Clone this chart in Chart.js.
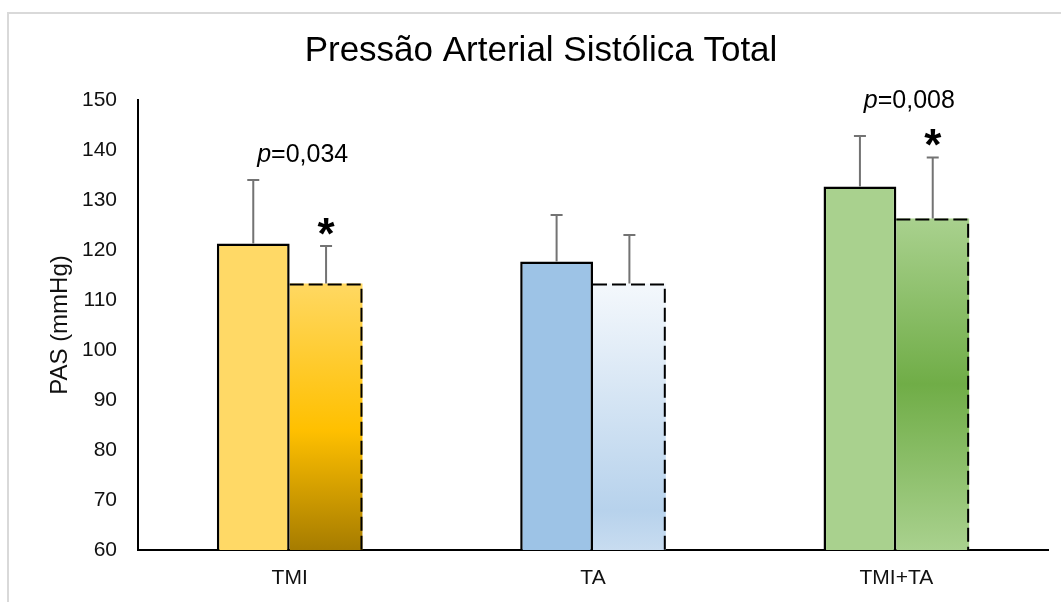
<!DOCTYPE html>
<html lang="pt">
<head>
    <meta charset="UTF-8">
    <title>Pressão Arterial Sistólica Total</title>
    <script src="https://cdn.jsdelivr.net/npm/chart.js"></script>
    <style>
        body { margin: 0; background: #fff; }
        #wrap { width: 1061px; height: 602px; }
    </style>
</head>
<body>
    <div id="wrap"><canvas id="pasChart"></canvas></div>

    <script>
        // dados
        const grupos = ["TMI", "TA", "TMI+TA"];
        const pasPre = [121.3, 117.7, 132.7];
        const dpPre = [12.7, 9.3, 10.1];
        const pasPos = [113.3, 113.3, 126.3];
        const dpPos = [7.5, 9.7, 12.2];
        const valoresP = ["0,034", "", "0,008"];
        const nivelP = [139, null, 149.7];
        const marcaSignif = ["*", "", "*"];

        const fonte = "'Liberation Sans', Arial, sans-serif";
        const corPre = ["#FFD966", "#9DC3E6", "#A9D18E"];
        const gradPos = [
            [[0, "#FFD862"], [0.55, "#FFC000"], [1, "#A67C00"]],
            [[0, "#F4F8FC"], [0.85, "#B7D2EC"], [1, "#C8DCF0"]],
            [[0, "#A9D18E"], [0.5, "#70AD47"], [1, "#A9D18E"]]
        ];

        function preenchePos(c) {
            const stops = gradPos[c.dataIndex] || gradPos[0];
            const chart = c.chart;
            const area = chart.chartArea;
            if (!area || c.type !== "data" || !chart.scales.y) return stops[0][1];
            const y0 = chart.scales.y.getPixelForValue(c.raw);
            const g = chart.ctx.createLinearGradient(0, y0, 0, area.bottom);
            stops.forEach(s => g.addColorStop(s[0], s[1]));
            return g;
        }

        const moldura = {
            id: "moldura",
            beforeDraw(chart) {
                const ctx = chart.ctx;
                ctx.save();
                ctx.strokeStyle = "#D9D9D9";
                ctx.lineWidth = 2;
                ctx.beginPath();
                ctx.moveTo(8, chart.height);
                ctx.lineTo(8, 13);
                ctx.lineTo(chart.width, 13);
                ctx.stroke();
                ctx.fillStyle = "#000";
                ctx.font = "35px " + fonte;
                ctx.textAlign = "center";
                ctx.textBaseline = "middle";
                ctx.fillText("Pressão Arterial Sistólica Total", 541, 51);
                ctx.restore();
            }
        };

        const extras = {
            id: "extras",
            afterDatasetsDraw(chart) {
                const ctx = chart.ctx;
                const y = chart.scales.y;
                const x = chart.scales.x;
                const fundo = chart.chartArea.bottom;
                const sds = [dpPre, dpPos];
                ctx.save();

                // borda tracejada das barras pós
                const metaPos = chart.getDatasetMeta(1);
                metaPos.data.forEach(bar => {
                    const l = bar.x - bar.width / 2, r = bar.x + bar.width / 2 - 1;
                    ctx.strokeStyle = "#000";
                    ctx.lineWidth = 2;
                    ctx.setLineDash([14, 5]);
                    ctx.beginPath();
                    ctx.moveTo(l, bar.y + 1);
                    ctx.lineTo(r, bar.y + 1);
                    ctx.lineTo(r, Math.min(bar.base, fundo));
                    ctx.stroke();
                });
                ctx.setLineDash([]);

                // barras de erro (só para cima)
                [0, 1].forEach(d => {
                    const meta = chart.getDatasetMeta(d);
                    const vals = chart.data.datasets[d].data;
                    meta.data.forEach((bar, i) => {
                        const yTop = y.getPixelForValue(vals[i] + sds[d][i]);
                        ctx.strokeStyle = "#737373";
                        ctx.lineWidth = 2;
                        ctx.beginPath();
                        ctx.moveTo(bar.x, bar.y);
                        ctx.lineTo(bar.x, yTop);
                        ctx.moveTo(bar.x - 6, yTop);
                        ctx.lineTo(bar.x + 6, yTop);
                        ctx.stroke();
                    });
                });

                // asteriscos
                const metaP = chart.getDatasetMeta(1);
                ctx.fillStyle = "#000";
                ctx.font = "bold 44px " + fonte;
                ctx.textAlign = "center";
                ctx.textBaseline = "alphabetic";
                marcaSignif.forEach((m, i) => {
                    if (!m) return;
                    const bar = metaP.data[i];
                    const yTop = y.getPixelForValue(pasPos[i] + dpPos[i]);
                    const tm = ctx.measureText(m);
                    const meio = (tm.actualBoundingBoxAscent - tm.actualBoundingBoxDescent) / 2;
                    ctx.fillText(m, bar.x, yTop - 20 + meio);
                });

                // valores de p
                ctx.textBaseline = "middle";
                ctx.textAlign = "left";
                valoresP.forEach((p, i) => {
                    if (!p) return;
                    const cx = x.getPixelForValue(i) + 13;
                    const cy = y.getPixelForValue(nivelP[i]);
                    ctx.font = "italic 25px " + fonte;
                    const w1 = ctx.measureText("p").width;
                    ctx.font = "25px " + fonte;
                    const w2 = ctx.measureText("=" + p).width;
                    const x0 = cx - (w1 + w2) / 2;
                    ctx.font = "italic 25px " + fonte;
                    ctx.fillText("p", x0, cy);
                    ctx.font = "25px " + fonte;
                    ctx.fillText("=" + p, x0 + w1, cy);
                });
                ctx.restore();
            }
        };

        new Chart(document.getElementById("pasChart"), {
            type: "bar",
            data: {
                labels: grupos,
                datasets: [{
                    label: "Pré",
                    data: pasPre,
                    backgroundColor: corPre,
                    borderColor: "#000",
                    borderWidth: 2.5,
                    categoryPercentage: 0.48,
                    barPercentage: 1.0
                }, {
                    label: "Pós",
                    data: pasPos,
                    backgroundColor: preenchePos,
                    borderWidth: 0,
                    categoryPercentage: 0.48,
                    barPercentage: 1.0
                }]
            },
            options: {
                responsive: true,
                maintainAspectRatio: false,
                animation: false,
                layout: { padding: { top: 100, right: 13, left: 0, bottom: 0 } },
                plugins: {
                    legend: { display: false },
                    title: { display: false },
                    tooltip: { enabled: false }
                },
                scales: {
                    x: {
                        grid: { display: false, drawTicks: false },
                        border: { display: true, color: "#000", width: 2 },
                        ticks: { color: "#111", padding: 16, font: { family: fonte, size: 21 } },
                        afterFit(s) { s.height = 52; }
                    },
                    y: {
                        min: 60,
                        max: 150,
                        grid: { display: false, drawTicks: false },
                        border: { display: true, color: "#000", width: 2 },
                        ticks: { stepSize: 10, color: "#111", padding: 21, font: { family: fonte, size: 21 } },
                        title: {
                            display: true,
                            text: "PAS (mmHg)",
                            color: "#111",
                            font: { family: fonte, size: 24 },
                            padding: { top: 46, bottom: 0 }
                        },
                        afterFit(s) { s.width = 138; }
                    }
                }
            },
            plugins: [moldura, extras]
        });
    </script>
</body>
</html>
